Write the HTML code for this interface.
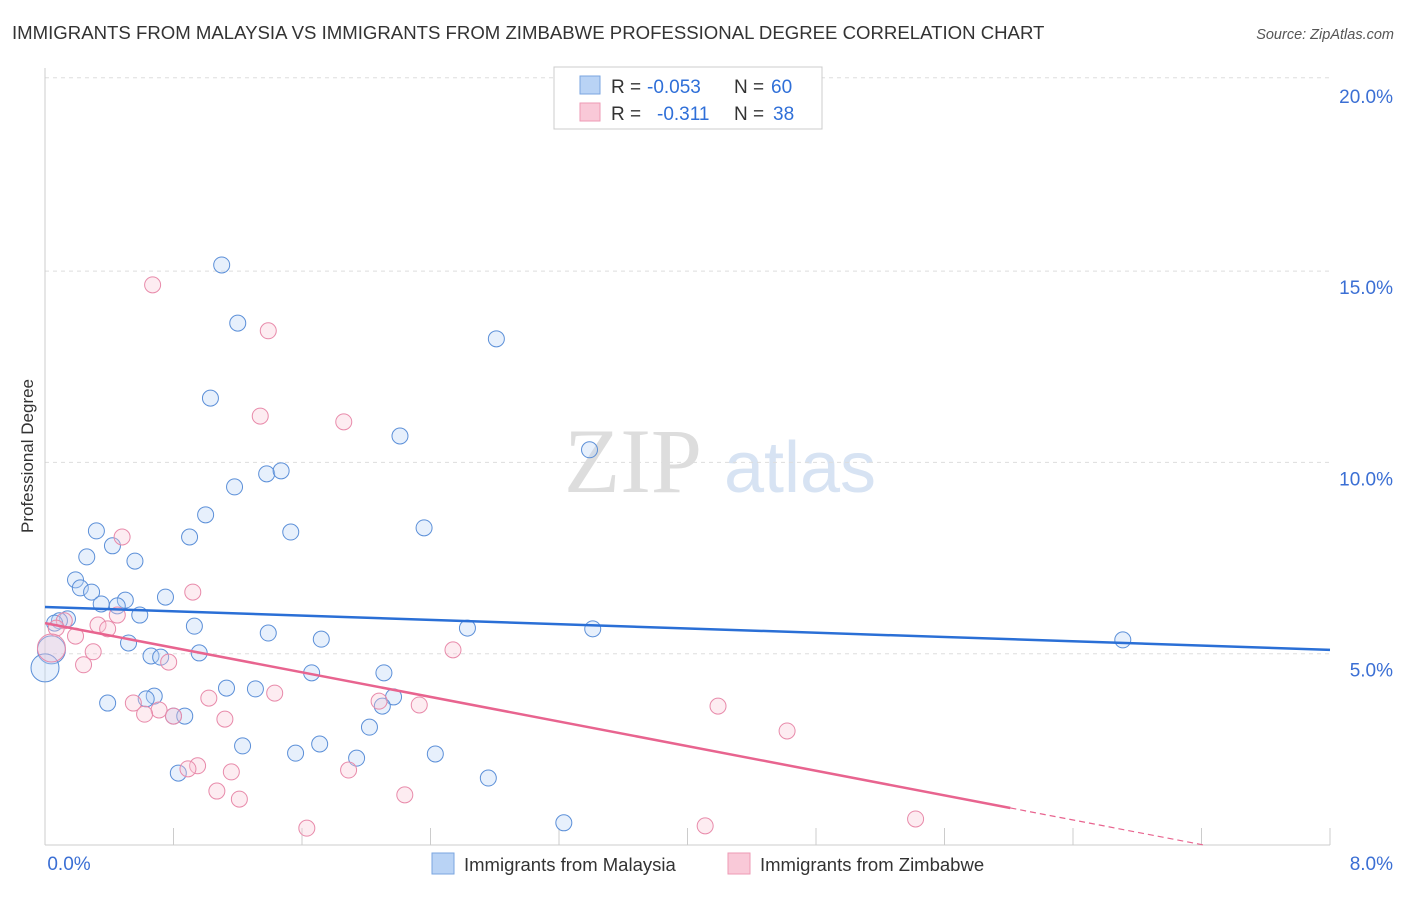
<!DOCTYPE html>
<html><head><meta charset="utf-8"><style>
body{margin:0;background:#fff;font-family:"Liberation Sans",sans-serif}
</style></head><body>
<svg width="1406" height="892" xmlns="http://www.w3.org/2000/svg" style="font-family:'Liberation Sans',sans-serif">
<text x="12" y="39" font-size="18.6" fill="#333">IMMIGRANTS FROM MALAYSIA VS IMMIGRANTS FROM ZIMBABWE PROFESSIONAL DEGREE CORRELATION CHART</text>
<text x="1394" y="39" font-size="14.5" fill="#555" text-anchor="end" font-style="italic">Source: ZipAtlas.com</text>
<g>
<text x="633" y="492" font-size="92" fill="#ddd" text-anchor="middle" font-family="Liberation Serif">ZIP</text>
<text x="800" y="492" font-size="72" fill="#d7e3f3" text-anchor="middle">atlas</text>
</g>
<g id="grid"></g>
<g id="axes"></g>
<text transform="translate(33,456) rotate(-90)" font-size="17" fill="#333" text-anchor="middle">Professional Degree</text>
<g id="marks"></g>
<g>
<rect x="554" y="67" width="268" height="62" fill="#fff" stroke="#ccc"/>
<rect x="580" y="76" width="20" height="18" fill="#b9d3f5" stroke="#7aa6e0"/>
<rect x="580" y="103" width="20" height="18" fill="#f9c9d8" stroke="#ee9ab5"/>
<text x="611" y="93" font-size="19" fill="#333">R =</text>
<text x="647" y="93" font-size="19" fill="#2f6fd8">-0.053</text>
<text x="734" y="93" font-size="19" fill="#333">N =</text>
<text x="771" y="93" font-size="19" fill="#2f6fd8">60</text>
<text x="611" y="120" font-size="19" fill="#333">R =</text>
<text x="657" y="120" font-size="19" fill="#2f6fd8">-0.311</text>
<text x="734" y="120" font-size="19" fill="#333">N =</text>
<text x="773" y="120" font-size="19" fill="#2f6fd8">38</text>
</g>
<g>
<rect x="432" y="853" width="22" height="21" fill="#b9d3f5" stroke="#7aa6e0"/>
<text x="464" y="871" font-size="18.5" fill="#333">Immigrants from Malaysia</text>
<rect x="728" y="853" width="22" height="21" fill="#f9c9d8" stroke="#ee9ab5"/>
<text x="760" y="871" font-size="18.5" fill="#333">Immigrants from Zimbabwe</text>
</g>
</svg>
<script>
const blueX=[1.10,1.20,2.81,1.03,2.21,3.39,1.38,1.47,1.18,1.00,0.32,1.53,2.36,0.90,0.42,0.26,0.56,0.19,0.22,0.29,0.75,0.50,0.35,0.45,0.59,0.14,0.09,0.06,0.93,2.63,3.41,1.39,1.72,0.52,0.66,0.72,0.96,6.71,0.04,0.00,1.66,2.11,1.13,1.31,2.17,0.68,0.63,0.39,2.10,0.80,0.87,2.02,1.23,1.71,1.56,2.43,1.94,0.83,2.76,3.23];
const blueY=[15.16,13.64,13.23,11.68,10.69,10.33,9.70,9.78,9.36,8.63,8.21,8.18,8.29,8.05,7.82,7.53,7.42,6.93,6.72,6.61,6.48,6.40,6.30,6.25,6.01,5.91,5.86,5.80,5.72,5.67,5.65,5.54,5.38,5.28,4.94,4.91,5.02,5.36,5.10,4.63,4.50,4.50,4.10,4.08,3.87,3.89,3.82,3.71,3.63,3.37,3.37,3.08,2.59,2.64,2.40,2.38,2.27,1.88,1.75,0.58];
const pinkX=[0.67,1.39,1.34,1.86,0.48,0.92,0.45,0.12,0.07,0.33,0.39,0.19,0.04,0.30,2.54,0.77,0.24,1.43,1.02,2.08,0.55,2.33,4.19,0.71,0.62,0.80,1.12,4.62,0.95,0.89,1.16,1.89,1.07,2.24,1.21,1.63,4.11,5.42];
const pinkY=[14.64,13.44,11.21,11.06,8.05,6.61,6.01,5.86,5.67,5.75,5.65,5.46,5.15,5.05,5.10,4.78,4.71,3.97,3.84,3.76,3.71,3.66,3.63,3.53,3.42,3.37,3.29,2.98,2.07,1.99,1.91,1.96,1.41,1.31,1.20,0.44,0.50,0.68];
const yTicks=[5,10,15,20];
const yTickLabels=["5.0%","10.0%","15.0%","20.0%"];
const xTickCount=10;
const blueTrend=[6.22,5.10];
const pinkTrend=[5.80,-0.804];
const NS="http://www.w3.org/2000/svg";
const xs=v=>45+v/8*1285, ys=v=>845-v/5*191.3;
function mk(t,a,p){const e=document.createElementNS(NS,t);for(const k in a)e.setAttribute(k,a[k]);p.appendChild(e);return e;}
const grid=document.getElementById('grid'),axes=document.getElementById('axes'),marks=document.getElementById('marks');
yTicks.forEach((t,i)=>{
 const l=mk('line',{x1:45,x2:1330,y1:ys(t)-(t==20?2:0),y2:ys(t)-(t==20?2:0),stroke:'#ddd','stroke-dasharray':'4,4'},grid);
 
 
 const tx=mk('text',{x:1393,y:ys(t)+23,'font-size':19,fill:'#3b6fd4','text-anchor':'end'},axes);
 tx.textContent=yTickLabels[i];
 
 
});
let ax=mk('line',{x1:45,x2:45,y1:68,y2:845,stroke:'#ccc'},axes);


ax=mk('line',{x1:45,x2:1330,y1:845,y2:845,stroke:'#ccc'},axes);


for(let i=0;i<=xTickCount;i++){
 const x=xs(i*0.8);
 const t=mk('line',{x1:x,x2:x,y1:828,y2:845,stroke:'#ccc'},axes);
 
 
}
[[69,"0.0%","middle"],[1393,"8.0%","end"]].forEach(d=>{
 const t=mk('text',{x:d[0],y:870,'font-size':19,fill:'#3b6fd4','text-anchor':d[2]},axes);t.textContent=d[1];
 
 
});
function dots(X,Y,fill,stroke,name){
 X.forEach((x,i)=>{
  const big=(x<0.05&&(Y[i]>4.5&&Y[i]<5.2));
  const c=mk('circle',{cx:xs(x),cy:ys(Y[i]),r:big?14:8,fill:fill,'fill-opacity':0.35,stroke:stroke,'stroke-width':1},marks);
  
  
 });
}
dots(blueX,blueY,'#b9d3f5','#5b8fd8','malaysia-point');
dots(pinkX,pinkY,'#f9c9d8','#e88aaa','zimbabwe-point');
let l=mk('line',{x1:xs(0),y1:ys(blueTrend[0]),x2:xs(8),y2:ys(blueTrend[1]),stroke:'#2a6fd6','stroke-width':2.5},marks);


const pe=6.01,pz=-pinkTrend[0]/pinkTrend[1];
l=mk('line',{x1:xs(0),y1:ys(pinkTrend[0]),x2:xs(pe),y2:ys(pinkTrend[0]+pinkTrend[1]*pe),stroke:'#e8648f','stroke-width':2.5},marks);


l=mk('line',{x1:xs(pe),y1:ys(pinkTrend[0]+pinkTrend[1]*pe),x2:xs(pz),y2:ys(0),stroke:'#e8648f','stroke-width':1.2,'stroke-dasharray':'6,4'},marks);


</script>
</body></html>
